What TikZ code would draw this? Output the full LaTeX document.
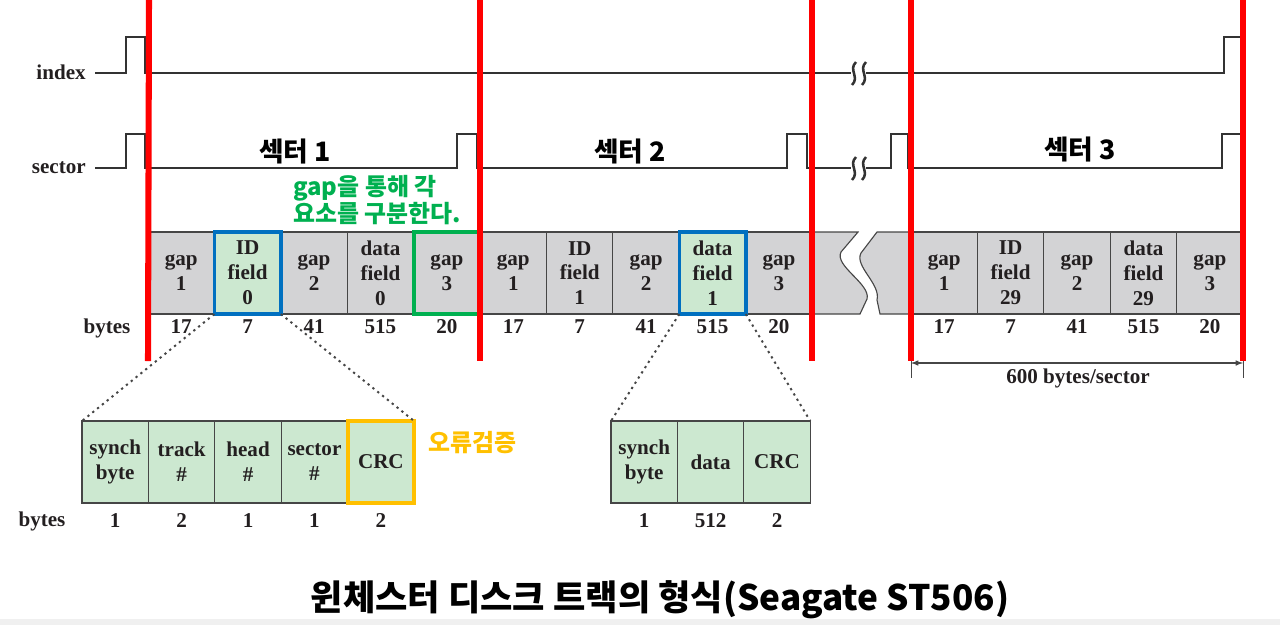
\documentclass[tikz,border=0pt]{standalone}
\usepackage{fontspec}
\setmainfont{Liberation Serif}
\newfontfamily\kor{Noto Sans CJK KR}
\usepackage{tikz}
\usetikzlibrary{positioning}
\usetikzlibrary{arrows}
\definecolor{hlred}{RGB}{255,0,0}
\definecolor{trackgray}{RGB}{211,211,213}
\definecolor{fieldgreen}{RGB}{204,232,208}
\definecolor{edgegray}{RGB}{70,70,70}
\definecolor{markblue}{RGB}{0,112,192}
\definecolor{markgreen}{RGB}{0,176,80}
\definecolor{markyellow}{RGB}{255,192,0}
\definecolor{ink}{RGB}{35,31,32}

\tikzset{
  cell/.style={draw=edgegray, line width=0.8pt, fill=trackgray,
    minimum width=1.66cm, minimum height=2.05cm, inner sep=0pt, outer sep=0pt,
    align=center, text=ink, font=\bfseries\fontsize{15}{17.7}\selectfont},
  field/.style={cell, fill=fieldgreen},
  num/.style={inner sep=0pt, anchor=base, text=ink,
    font=\bfseries\fontsize{15}{17.7}\selectfont},
  signal/.style={line width=2.1pt, draw=black!80, line join=miter},
  breakmark/.style={line width=1.8pt, draw=black!80},
  marker/.style={draw=hlred, line width=4.3pt},
  seclabel/.style={inner sep=0pt, text=black, font=\kor\bfseries\fontsize{19}{22}\selectfont},
  note/.style={inner sep=0pt, align=left, font=\kor\bfseries\fontsize{17}{18.4}\selectfont},
  zoomline/.style={draw=edgegray, line width=1.4pt, dash pattern=on 1.6pt off 2.8pt},
}

\begin{document}
\begin{tikzpicture}[x=0.025cm, y=-0.025cm]
\useasboundingbox (0,0) rectangle (1280,625);

% signal levels
\def\idxLo{73}
\def\idxHi{37}
\def\secLo{168}
\def\secHi{134}

%---------------------------------------
% Index and sector signals
%---------------------------------------
\node[num, anchor=base east] (lidx) at (86,79) {index};
\node[num, anchor=base east] (lsec) at (86,173) {sector};

\draw[signal] (95,\idxLo) -- (126,\idxLo) -- (126,\idxHi) -- (145,\idxHi)
  -- (145,\idxLo) -- (851,\idxLo);
\draw[signal] (866,\idxLo) -- (1224,\idxLo) -- (1224,\idxHi) -- (1245,\idxHi)
  -- (1245,\idxLo);

\draw[signal] (95,\secLo) -- (126,\secLo) -- (126,\secHi) -- (145,\secHi)
  -- (145,\secLo) -- (457,\secLo) -- (457,\secHi) -- (477,\secHi)
  -- (477,\secLo) -- (787,\secLo) -- (787,\secHi) -- (807,\secHi)
  -- (807,\secLo) -- (851,\secLo);
\draw[signal] (866,\secLo) -- (891,\secLo) -- (891,\secHi) -- (908,\secHi)
  -- (908,\secLo) -- (1222,\secLo) -- (1222,\secHi) -- (1245,\secHi)
  -- (1245,\secLo);

% break marks
\draw[breakmark] (856,62) .. controls (848,70) and (860,77) .. (852,85);
\draw[breakmark] (866,62) .. controls (858,70) and (870,77) .. (862,85);
\draw[breakmark] (856,157) .. controls (848,165) and (860,172) .. (852,180);
\draw[breakmark] (866,157) .. controls (858,165) and (870,172) .. (862,180);

\node[seclabel] (sec1) at (295,152) {섹터 1};
\node[seclabel] (sec2) at (630,152) {섹터 2};
\node[seclabel] (sec3) at (1080,150) {섹터 3};

\node[note, text=markgreen, anchor=west] (gapnote) at (293,200)
  {gap을 통해 각\\요소를 구분한다.};

%---------------------------------------
% Track strip
%---------------------------------------
\draw[edgegray, line width=0.8pt, fill=trackgray]
  (148,232) -- (858,232) -- (841,252)
  .. controls (834,266) and (871,284) .. (867,299) -- (860,314)
  -- (148,314) -- cycle;
\draw[edgegray, line width=0.8pt, fill=trackgray]
  (877,232) -- (1242,232) -- (1242,314) -- (880,314) -- (877,300)
  .. controls (881,284) and (854,266) .. (861,253) -- cycle;

% sector 1
\node[cell, anchor=north west] (s1a) at (148,232) {gap\\1};
\node[field, right=0pt of s1a] (s1b) {ID\\field\\0};
\node[cell, right=0pt of s1b] (s1c) {gap\\2};
\node[cell, right=0pt of s1c] (s1d) {data\\field\\0};
\node[cell, right=0pt of s1d] (s1e) {gap\\3};
% sector 2
\node[cell, right=0pt of s1e] (s2a) {gap\\1};
\node[cell, right=0pt of s2a] (s2b) {ID\\field\\1};
\node[cell, right=0pt of s2b] (s2c) {gap\\2};
\node[field, right=0pt of s2c] (s2d) {data\\field\\1};
\node[cell, right=0pt of s2d] (s2e) {gap\\3};
% sector 30
\node[cell, anchor=north west] (s3a) at (911,232) {gap\\1};
\node[cell, right=0pt of s3a] (s3b) {ID\\field\\29};
\node[cell, right=0pt of s3b] (s3c) {gap\\2};
\node[cell, right=0pt of s3c] (s3d) {data\\field\\29};
\node[cell, right=0pt of s3d] (s3e) {gap\\3};

% highlighted fields
\draw[markblue, line width=2.6pt] (s1b.south west) rectangle (s1b.north east);
\draw[markgreen, line width=2.6pt] (s1e.south west) rectangle (s1e.north east);
\draw[markblue, line width=2.6pt] (s2d.south west) rectangle (s2d.north east);

% byte counts
\coordinate (row1) at (0,333);
\node[num] (bytes1) at (107,333) {bytes};
\node[num] (n1a) at (s1a.south |- row1) {17};
\node[num] (n1b) at (s1b.south |- row1) {7};
\node[num] (n1c) at (s1c.south |- row1) {41};
\node[num] (n1d) at (s1d.south |- row1) {515};
\node[num] (n1e) at (s1e.south |- row1) {20};
\node[num] (n2a) at (s2a.south |- row1) {17};
\node[num] (n2b) at (s2b.south |- row1) {7};
\node[num] (n2c) at (s2c.south |- row1) {41};
\node[num] (n2d) at (s2d.south |- row1) {515};
\node[num] (n2e) at (s2e.south |- row1) {20};
\node[num] (n3a) at (s3a.south |- row1) {17};
\node[num] (n3b) at (s3b.south |- row1) {7};
\node[num] (n3c) at (s3c.south |- row1) {41};
\node[num] (n3d) at (s3d.south |- row1) {515};
\node[num] (n3e) at (s3e.south |- row1) {20};

% sector length
\coordinate (sz1) at (911,363);
\coordinate (sz2) at (1243,363);
\draw[edgegray, line width=0.6pt] (911,352) -- (911,378);
\draw[edgegray, line width=0.6pt] (1243,352) -- (1243,378);
\draw[edgegray, line width=0.8pt, latex-latex] (sz1) -- (sz2);
\node[num] (szlabel) at (1078,383) {600 bytes/sector};

%---------------------------------------
% Sector boundaries
%---------------------------------------
\coordinate (rtop) at (0,0);
\coordinate (rbot) at (0,361);
\draw[marker] (149,0) -- (s1a.west |- rbot);
\draw[marker] (s2a.west |- rtop) -- (s2a.west |- rbot);
\draw[marker] (s2e.east |- rtop) -- (s2e.east |- rbot);
\draw[marker] (s3a.west |- rtop) -- (s3a.west |- rbot);
\draw[marker] (s3e.east |- rtop) -- (s3e.east |- rbot);

%---------------------------------------
% ID field and data field
%---------------------------------------
\node[field, anchor=north west] (e1) at (82,421) {synch\\byte};
\node[field, right=0pt of e1] (e2) {track\\\#};
\node[field, right=0pt of e2] (e3) {head\\\#};
\node[field, right=0pt of e3] (e4) {sector\\\#};
\node[field, right=0pt of e4] (e5) {CRC};
\draw[markyellow, line width=2.8pt] (e5.south west) rectangle (e5.north east);
\node[note, text=markyellow] (crcnote) at (472,443) {오류검증};

\node[field, anchor=north west] (d1) at (611,421) {synch\\byte};
\node[field, right=0pt of d1] (d2) {data};
\node[field, right=0pt of d2] (d3) {CRC};

\draw[zoomline] (s1b.south west) -- (e1.north west);
\draw[zoomline] (s1b.south east) -- (e5.north east);
\draw[zoomline] (s2d.south west) -- (d1.north west);
\draw[zoomline] (s2d.south east) -- (d3.north east);

\coordinate (row2) at (0,527);
\node[num] (bytes2) at (42,526) {bytes};
\node[num] (m1) at (e1.south |- row2) {1};
\node[num] (m2) at (e2.south |- row2) {2};
\node[num] (m3) at (e3.south |- row2) {1};
\node[num] (m4) at (e4.south |- row2) {1};
\node[num] (m5) at (e5.south |- row2) {2};
\node[num] (k1) at (d1.south |- row2) {1};
\node[num] (k2) at (d2.south |- row2) {512};
\node[num] (k3) at (d3.south |- row2) {2};

%---------------------------------------
% Caption
%---------------------------------------
\node[inner sep=0pt, font=\kor\bfseries\fontsize{25}{30}\selectfont]
  (caption) at (660,600) {윈체스터 디스크 트랙의 형식(Seagate ST506)};
\fill[black!6] (0,619) rectangle (1280,625);

\end{tikzpicture}
\end{document}
